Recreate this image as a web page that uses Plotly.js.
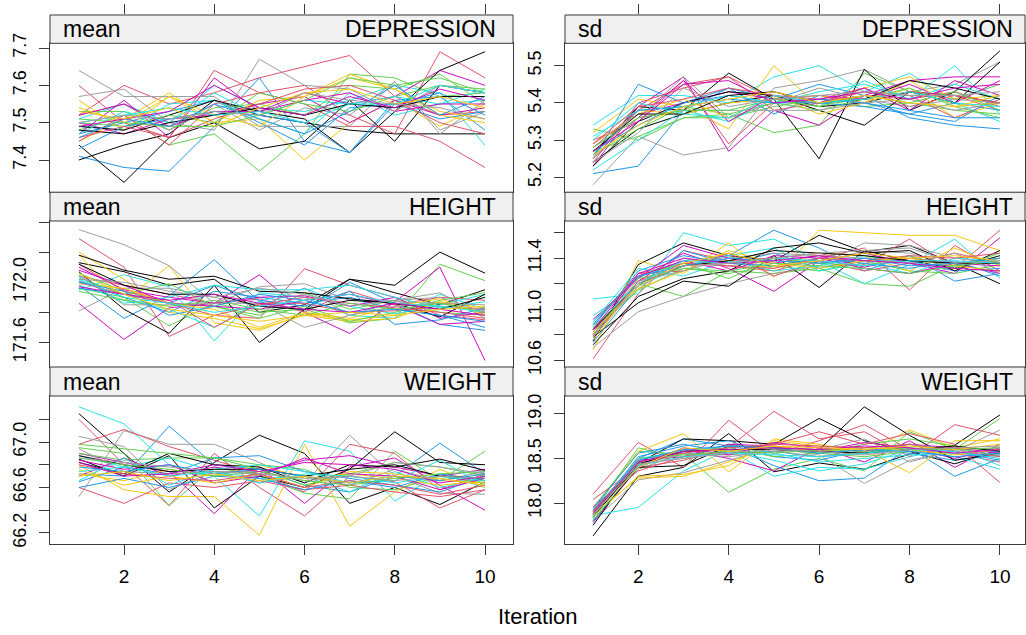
<!DOCTYPE html>
<html>
<head>
<meta charset="utf-8">
<script src="https://cdn.plot.ly/plotly-3.0.1.min.js"></script>
<style>html,body{margin:0;padding:0;background:#fff;}#chart{width:1026px;height:635px;}</style>
</head>
<body>
<div id="chart"></div>
<script>
// ---------------- DATA ----------------
const iterations = [1, 2, 3, 4, 5, 6, 7, 8, 9, 10];
const xTicks = [2, 4, 6, 8, 10];
const statNames = ["mean", "sd"];
const varNames = ["DEPRESSION", "HEIGHT", "WEIGHT"];
const axisTitle = "Iteration";

// one row per imputation chain, one value per iteration
const depMean = [
  [7.40,7.44,7.47,7.56,7.52,7.50,7.48,7.47,7.47,7.47],
  [7.52,7.60,7.55,7.58,7.62,7.65,7.68,7.57,7.52,7.53],
  [7.48,7.52,7.44,7.47,7.37,7.47,7.63,7.62,7.57,7.58],
  [7.41,7.38,7.37,7.49,7.62,7.45,7.42,7.56,7.57,7.48],
  [7.51,7.55,7.50,7.60,7.54,7.53,7.56,7.60,7.58,7.44],
  [7.47,7.56,7.46,7.62,7.53,7.58,7.55,7.57,7.64,7.60],
  [7.45,7.51,7.58,7.50,7.51,7.40,7.50,7.56,7.49,7.55],
  [7.64,7.57,7.57,7.57,7.49,7.49,7.49,7.61,7.47,7.56],
  [7.44,7.34,7.46,7.50,7.43,7.45,7.56,7.45,7.60,7.58],
  [7.60,7.50,7.46,7.64,7.58,7.60,7.52,7.47,7.69,7.62],
  [7.53,7.53,7.48,7.54,7.55,7.52,7.60,7.59,7.63,7.55],
  [7.47,7.50,7.53,7.56,7.50,7.44,7.54,7.55,7.51,7.53],
  [7.49,7.48,7.55,7.56,7.51,7.47,7.58,7.52,7.55,7.59],
  [7.50,7.47,7.51,7.52,7.55,7.57,7.50,7.56,7.52,7.54],
  [7.56,7.48,7.57,7.50,7.56,7.57,7.63,7.59,7.53,7.51],
  [7.52,7.55,7.48,7.55,7.48,7.54,7.52,7.61,7.48,7.53],
  [7.49,7.48,7.52,7.56,7.53,7.51,7.42,7.53,7.64,7.69],
  [7.45,7.52,7.44,7.55,7.58,7.55,7.49,7.49,7.45,7.38],
  [7.50,7.49,7.52,7.50,7.58,7.55,7.53,7.57,7.60,7.59],
  [7.43,7.49,7.51,7.53,7.52,7.50,7.42,7.55,7.58,7.52],
  [7.47,7.53,7.50,7.58,7.52,7.56,7.55,7.57,7.55,7.56],
  [7.52,7.55,7.49,7.53,7.53,7.56,7.58,7.53,7.55,7.55],
  [7.54,7.50,7.57,7.52,7.49,7.57,7.62,7.59,7.52,7.50],
  [7.57,7.59,7.50,7.48,7.67,7.60,7.59,7.53,7.60,7.58],
  [7.48,7.47,7.50,7.52,7.54,7.52,7.55,7.54,7.57,7.57],
  [7.46,7.49,7.46,7.51,7.55,7.59,7.60,7.56,7.50,7.47],
  [7.51,7.50,7.49,7.49,7.52,7.56,7.62,7.60,7.62,7.58],
  [7.46,7.51,7.49,7.55,7.51,7.47,7.53,7.60,7.52,7.57],
  [7.50,7.52,7.54,7.52,7.53,7.50,7.55,7.55,7.60,7.58],
  [7.49,7.51,7.53,7.60,7.54,7.52,7.57,7.54,7.59,7.56],
  [7.53,7.51,7.54,7.49,7.54,7.58,7.59,7.55,7.57,7.54],
  [7.50,7.52,7.51,7.53,7.52,7.58,7.56,7.55,7.54,7.51]
];
const depSd = [
  [5.24,5.33,5.37,5.40,5.42,5.39,5.40,5.43,5.42,5.40],
  [5.28,5.38,5.45,5.47,5.41,5.40,5.42,5.41,5.43,5.39],
  [5.33,5.30,5.36,5.37,5.32,5.34,5.48,5.43,5.41,5.45],
  [5.21,5.23,5.38,5.44,5.41,5.45,5.42,5.36,5.34,5.33],
  [5.34,5.42,5.42,5.40,5.47,5.50,5.43,5.48,5.40,5.35],
  [5.23,5.39,5.47,5.27,5.38,5.34,5.42,5.46,5.47,5.47],
  [5.32,5.41,5.39,5.33,5.50,5.39,5.44,5.47,5.41,5.42],
  [5.18,5.31,5.26,5.28,5.44,5.46,5.49,5.43,5.45,5.51],
  [5.26,5.39,5.38,5.48,5.41,5.25,5.49,5.38,5.43,5.54],
  [5.30,5.35,5.46,5.29,5.40,5.41,5.44,5.39,5.42,5.38],
  [5.27,5.31,5.36,5.36,5.39,5.41,5.39,5.40,5.38,5.37],
  [5.25,5.45,5.40,5.44,5.37,5.42,5.40,5.37,5.40,5.38],
  [5.22,5.30,5.38,5.35,5.41,5.39,5.46,5.41,5.50,5.37],
  [5.29,5.37,5.40,5.43,5.41,5.42,5.41,5.45,5.40,5.46],
  [5.25,5.38,5.37,5.40,5.41,5.42,5.40,5.44,5.36,5.40],
  [5.28,5.36,5.47,5.36,5.40,5.44,5.41,5.39,5.41,5.40],
  [5.23,5.35,5.40,5.43,5.42,5.38,5.34,5.43,5.40,5.51],
  [5.24,5.40,5.44,5.47,5.38,5.40,5.43,5.42,5.36,5.41],
  [5.26,5.33,5.39,5.37,5.40,5.38,5.41,5.44,5.39,5.36],
  [5.27,5.34,5.40,5.42,5.40,5.40,5.39,5.37,5.35,5.42],
  [5.31,5.38,5.39,5.42,5.40,5.43,5.45,5.41,5.45,5.41],
  [5.25,5.36,5.46,5.35,5.42,5.40,5.44,5.38,5.46,5.42],
  [5.29,5.37,5.41,5.36,5.42,5.37,5.40,5.46,5.39,5.40],
  [5.25,5.36,5.38,5.38,5.38,5.38,5.40,5.41,5.38,5.40],
  [5.27,5.37,5.37,5.42,5.43,5.40,5.41,5.46,5.44,5.41],
  [5.29,5.39,5.41,5.44,5.42,5.41,5.41,5.43,5.42,5.40],
  [5.28,5.36,5.38,5.38,5.41,5.39,5.42,5.40,5.43,5.38],
  [5.26,5.38,5.39,5.41,5.40,5.41,5.40,5.38,5.36,5.36],
  [5.30,5.40,5.37,5.36,5.42,5.40,5.41,5.43,5.40,5.39],
  [5.27,5.35,5.45,5.46,5.40,5.41,5.43,5.41,5.44,5.45],
  [5.26,5.34,5.39,5.41,5.43,5.40,5.42,5.40,5.39,5.42],
  [5.24,5.32,5.44,5.39,5.41,5.42,5.43,5.42,5.42,5.43]
];
const heightMean = [
  [172.13,172.07,171.98,172.02,171.80,171.85,172.02,171.93,171.85,171.95],
  [172.29,172.10,171.64,171.78,171.76,172.09,171.98,171.90,171.78,171.75],
  [171.96,171.90,171.71,171.86,171.80,171.82,171.73,171.76,172.12,172.01],
  [171.98,171.76,171.91,172.15,171.87,171.81,172.00,171.86,171.72,171.68],
  [171.95,172.05,171.97,171.61,171.93,171.90,171.78,171.76,171.92,171.82],
  [171.86,171.62,171.83,171.86,172.05,171.80,171.66,171.87,172.10,171.48],
  [172.18,171.88,172.11,171.73,171.68,171.79,171.75,171.78,171.87,171.79],
  [172.35,172.25,172.11,171.86,171.97,171.99,171.88,171.88,171.93,171.76],
  [172.07,171.82,171.66,171.98,171.60,171.82,172.02,171.98,172.20,172.06],
  [172.04,171.98,171.92,171.86,171.89,171.80,171.94,171.85,171.90,171.88],
  [172.06,171.94,171.86,171.84,171.78,171.93,171.82,171.88,171.80,171.78],
  [172.01,171.90,171.80,171.94,171.90,171.86,171.90,171.82,171.78,171.70],
  [171.98,171.88,171.82,171.70,171.87,171.96,171.84,171.79,171.85,171.92],
  [172.10,171.95,171.90,171.86,171.90,171.91,171.84,171.90,171.76,171.80],
  [172.20,172.02,171.80,171.76,171.69,171.78,171.74,171.76,171.87,171.83],
  [171.81,171.96,171.96,171.90,171.84,171.96,171.78,171.87,171.86,171.81],
  [172.18,172.08,172.02,172.04,171.94,171.93,171.89,171.86,171.77,171.92],
  [172.12,171.94,171.88,171.70,171.86,171.86,171.80,171.81,171.84,171.82],
  [172.03,171.92,171.99,171.84,171.76,171.84,171.74,171.80,171.88,171.93],
  [171.96,171.92,171.86,171.98,171.88,171.84,171.94,171.72,171.75,171.83],
  [172.04,171.86,171.90,171.98,171.95,171.95,171.98,171.90,171.83,171.87],
  [172.08,171.98,171.86,171.84,171.82,171.88,171.92,171.85,171.72,171.74],
  [171.99,171.96,171.86,171.82,171.70,171.80,171.76,171.84,171.89,171.78],
  [172.05,171.85,171.85,171.86,171.86,171.70,171.78,171.84,171.86,171.85],
  [172.12,171.98,171.92,171.92,171.84,171.82,171.88,171.86,171.82,171.90],
  [172.00,171.92,171.86,171.78,171.85,171.90,171.86,171.83,171.80,171.76],
  [171.94,171.88,171.84,171.88,171.82,171.78,171.86,171.82,171.86,171.80],
  [172.00,171.94,171.78,171.84,171.92,171.88,171.80,171.82,171.78,171.74],
  [172.02,171.90,171.86,171.80,171.84,171.88,171.92,171.86,171.84,171.80],
  [171.97,171.92,171.88,171.92,171.86,171.82,171.80,171.86,171.82,171.78],
  [172.06,171.92,171.82,171.78,171.74,171.78,171.80,171.78,171.82,171.84],
  [172.02,172.00,171.94,171.90,171.96,171.92,171.84,171.88,171.90,171.80]
];
const heightSd = [
  [10.75,11.35,11.52,11.42,11.38,11.58,11.45,11.50,11.36,11.20],
  [10.61,11.12,11.46,11.38,11.40,11.44,11.35,11.55,11.32,11.62],
  [10.85,11.20,11.10,11.30,11.28,11.32,11.20,11.18,11.35,11.40],
  [10.90,11.25,11.38,11.42,11.62,11.48,11.30,11.42,11.22,11.28],
  [11.08,11.12,11.60,11.50,11.55,11.38,11.20,11.35,11.55,11.24],
  [10.80,11.22,11.44,11.32,11.14,11.38,11.44,11.36,11.28,11.56],
  [10.68,11.38,11.28,11.52,11.25,11.62,11.60,11.58,11.58,11.46],
  [10.70,10.98,11.10,11.20,11.28,11.34,11.52,11.50,11.40,11.36],
  [10.78,11.05,11.22,11.18,11.42,11.17,11.46,11.38,11.32,11.42],
  [10.88,11.28,11.36,11.34,11.30,11.40,11.48,11.15,11.50,11.30],
  [10.82,11.15,11.32,11.28,11.34,11.30,11.38,11.30,11.28,11.35],
  [10.86,11.30,11.42,11.36,11.44,11.32,11.40,11.38,11.30,11.32],
  [10.95,11.18,11.34,11.42,11.48,11.30,11.36,11.28,11.40,11.38],
  [10.92,11.24,11.50,11.40,11.36,11.42,11.33,11.40,11.36,11.28],
  [10.76,11.20,11.34,11.38,11.32,11.44,11.42,11.30,11.48,11.34],
  [10.84,11.16,11.40,11.34,11.38,11.36,11.46,11.44,11.34,11.40],
  [10.72,11.10,11.24,11.30,11.48,11.52,11.44,11.46,11.30,11.46],
  [10.79,11.28,11.30,11.44,11.26,11.38,11.30,11.36,11.44,11.36],
  [10.88,11.26,11.36,11.24,11.40,11.36,11.34,11.42,11.32,11.44],
  [10.74,11.18,11.46,11.36,11.34,11.40,11.36,11.32,11.38,11.26],
  [10.90,11.32,11.26,11.38,11.30,11.34,11.42,11.36,11.34,11.40],
  [10.82,11.26,11.38,11.30,11.42,11.40,11.32,11.28,11.36,11.34],
  [10.86,11.16,11.30,11.46,11.36,11.32,11.38,11.40,11.34,11.30],
  [10.80,11.22,11.30,11.40,11.44,11.42,11.40,11.36,11.44,11.28],
  [10.84,11.20,11.34,11.38,11.46,11.44,11.42,11.38,11.36,11.36],
  [10.78,11.22,11.36,11.34,11.32,11.40,11.38,11.42,11.40,11.44],
  [10.80,11.24,11.32,11.30,11.36,11.34,11.32,11.28,11.34,11.38],
  [10.88,11.26,11.34,11.40,11.38,11.36,11.40,11.34,11.36,11.40],
  [10.86,11.20,11.38,11.36,11.40,11.38,11.34,11.38,11.38,11.36],
  [10.84,11.28,11.40,11.36,11.38,11.42,11.38,11.36,11.32,11.30],
  [10.82,11.18,11.36,11.44,11.34,11.38,11.44,11.40,11.42,11.38],
  [10.78,11.20,11.34,11.36,11.40,11.44,11.46,11.48,11.36,11.38]
];
const weightMean = [
  [67.25,66.90,66.56,66.82,67.06,66.90,66.46,66.60,66.45,66.65],
  [67.20,66.80,66.44,66.90,66.60,66.35,66.70,66.65,66.42,66.58],
  [66.95,66.90,66.44,66.78,66.70,66.55,66.50,66.92,66.66,66.92],
  [66.72,66.70,67.14,66.80,66.76,66.62,66.56,66.70,66.99,66.72],
  [67.31,67.16,66.80,66.70,66.35,67.01,66.92,66.48,66.72,66.60],
  [66.90,66.82,66.74,66.37,66.78,66.46,66.78,66.86,66.62,66.40],
  [66.80,66.58,66.52,66.52,66.18,66.98,66.26,66.56,66.76,66.60],
  [66.52,67.10,66.98,66.98,66.82,66.64,67.06,66.70,66.55,66.54],
  [66.85,66.70,66.88,66.42,66.70,66.60,66.76,67.09,66.82,66.80],
  [66.98,67.11,66.96,66.84,66.72,66.56,66.98,66.90,66.58,66.72],
  [66.90,66.84,66.86,66.86,66.80,66.76,66.60,66.58,66.70,66.64],
  [66.65,66.78,66.72,66.86,66.88,66.74,66.68,66.62,66.56,66.70],
  [66.88,66.78,66.86,66.74,66.68,66.70,66.56,66.74,66.60,66.68],
  [66.70,66.86,66.70,66.78,66.72,66.84,66.88,66.78,66.70,66.76],
  [66.72,66.66,66.76,66.70,66.80,66.68,66.72,66.68,66.62,66.66],
  [67.05,66.96,66.58,66.74,66.64,66.70,66.62,66.76,66.66,66.74],
  [66.82,66.72,66.90,66.80,66.78,66.64,66.80,66.78,66.85,66.75],
  [66.60,66.46,66.64,66.60,66.66,66.58,66.62,66.56,66.52,66.58],
  [66.98,66.94,66.90,66.86,66.76,66.62,66.72,66.82,66.78,66.70],
  [66.60,66.68,66.60,66.70,66.68,66.58,66.66,66.60,66.72,66.66],
  [66.66,66.86,66.62,66.76,66.80,66.74,66.64,66.66,66.84,66.62],
  [66.84,66.76,66.80,66.64,66.70,66.86,66.72,66.70,66.58,66.68],
  [66.76,66.62,66.70,66.64,66.72,66.60,66.74,66.72,66.66,66.64],
  [66.94,66.74,66.72,66.74,66.74,66.66,66.70,66.82,66.78,66.72],
  [66.88,66.80,66.74,66.76,66.76,66.70,66.76,66.80,66.70,66.68],
  [66.80,66.72,66.68,66.66,66.72,66.60,66.66,66.62,66.54,66.62],
  [66.86,66.80,66.76,66.70,66.74,66.66,66.62,66.68,66.72,66.74],
  [66.78,66.74,66.80,66.72,66.76,66.70,66.64,66.70,66.66,66.72],
  [66.74,66.78,66.70,66.74,66.64,66.72,66.70,66.64,66.70,66.66],
  [66.82,66.70,66.72,66.80,66.74,66.82,66.80,66.76,66.64,66.70],
  [66.70,66.74,66.66,66.72,66.66,66.70,66.64,66.70,66.68,66.62],
  [66.86,66.82,66.78,66.74,66.72,66.68,66.70,66.66,66.70,66.68]
];
const weightSd = [
  [17.63,18.30,18.40,18.78,18.35,18.45,18.38,18.55,18.65,18.99],
  [18.10,18.68,18.40,18.93,18.55,18.70,18.88,18.60,18.56,18.46],
  [17.95,18.58,18.55,18.12,18.38,18.50,18.36,18.80,18.60,18.95],
  [17.85,18.50,18.72,18.64,18.42,18.25,18.28,18.62,18.30,18.50],
  [17.86,17.95,18.36,18.60,18.30,18.40,18.38,18.52,18.62,18.42],
  [17.78,18.40,18.60,18.50,18.36,18.62,18.46,18.70,18.40,18.66],
  [17.92,18.58,18.78,18.35,18.72,18.66,18.56,18.82,18.62,18.72],
  [17.80,18.26,18.34,18.48,18.62,18.54,18.22,18.48,18.58,18.82],
  [17.75,18.45,18.72,18.70,18.66,18.95,18.70,18.58,18.44,18.60],
  [18.04,18.40,18.48,18.62,19.03,18.72,18.80,18.52,18.88,18.76],
  [17.90,18.62,18.50,18.66,18.60,18.56,18.66,18.72,18.64,18.58],
  [17.88,18.52,18.64,18.70,18.52,18.48,18.60,18.56,18.48,18.54],
  [17.82,18.46,18.60,18.58,18.48,18.36,18.44,18.60,18.52,18.38],
  [17.90,18.48,18.52,18.66,18.64,18.58,18.68,18.62,18.50,18.62],
  [17.84,18.30,18.32,18.42,18.70,18.64,18.60,18.34,18.70,18.70],
  [17.86,18.38,18.56,18.54,18.58,18.60,18.72,18.46,18.60,18.62],
  [17.80,18.40,18.42,18.64,18.62,18.60,19.08,18.76,18.48,18.56],
  [17.96,18.36,18.52,18.58,18.66,18.80,18.66,18.78,18.66,18.23],
  [17.88,18.44,18.58,18.62,18.52,18.56,18.52,18.58,18.62,18.52],
  [17.94,18.56,18.66,18.56,18.58,18.52,18.56,18.66,18.58,18.48],
  [17.84,18.50,18.58,18.64,18.56,18.46,18.50,18.54,18.56,18.58],
  [17.92,18.42,18.62,18.54,18.68,18.62,18.58,18.66,18.62,18.56],
  [17.88,18.28,18.30,18.46,18.64,18.58,18.62,18.60,18.54,18.60],
  [17.86,18.42,18.56,18.52,18.58,18.52,18.62,18.66,18.60,18.54],
  [17.84,18.44,18.58,18.60,18.60,18.58,18.56,18.60,18.64,18.58],
  [17.90,18.46,18.56,18.62,18.66,18.64,18.62,18.66,18.58,18.52],
  [17.86,18.50,18.54,18.58,18.56,18.60,18.58,18.62,18.60,18.62],
  [17.92,18.48,18.60,18.64,18.62,18.56,18.60,18.58,18.52,18.56],
  [17.80,18.42,18.52,18.56,18.54,18.52,18.56,18.60,18.58,18.50],
  [17.88,18.46,18.58,18.60,18.62,18.60,18.64,18.62,18.56,18.60],
  [17.84,18.40,18.62,18.58,18.64,18.62,18.60,18.64,18.60,18.66],
  [17.86,18.44,18.50,18.56,18.60,18.58,18.54,18.60,18.62,18.64]
];

// y tick values and labels per panel
const depMeanTicks = [7.4, 7.5, 7.6, 7.7];
const depMeanLabels = ["7.4", "7.5", "7.6", "7.7"];
const depSdTicks = [5.2, 5.3, 5.4, 5.5];
const depSdLabels = ["5.2", "5.3", "5.4", "5.5"];
const heightMeanTicks = [171.6, 171.8, 172.0, 172.2, 172.4];
const heightMeanLabels = ["171.6", "", "172.0", "", ""];
const heightSdTicks = [10.6, 10.8, 11.0, 11.2, 11.4, 11.6];
const heightSdLabels = ["10.6", "", "11.0", "", "11.4", ""];
const weightMeanTicks = [66.2, 66.4, 66.6, 66.8, 67.0, 67.2];
const weightMeanLabels = ["66.2", "", "66.6", "", "67.0", ""];
const weightSdTicks = [18.0, 18.5, 19.0];
const weightSdLabels = ["18.0", "18.5", "19.0"];

// ---------------- STYLE / LAYOUT ----------------
const palette = ["#000000", "#DF536B", "#61D04F", "#2297E6", "#28E2E5", "#CD0BBC", "#F5C710", "#9E9E9E"];
const W = 1026, H = 635;
const FONT = "Liberation Sans, Arial, sans-serif";
const BORDER = "#3a3a3a";

const colPx = [[50, 513], [565, 1025]];
const colRange = [[0.36, 10.62], [0.379, 10.554]];
const rowPlotPx = [[43.3, 191.7], [221, 366.5], [396, 544.3]];
const rowStripPx = [[15, 43.3], [192.2, 221], [367, 396]];

const panels = [
  {data: depMean, row: 0, col: 0, range: [7.3151, 7.7126], tv: depMeanTicks, tt: depMeanLabels},
  {data: depSd, row: 0, col: 1, range: [5.1613, 5.5602], tv: depSdTicks, tt: depSdLabels},
  {data: heightMean, row: 1, col: 0, range: [171.44, 172.407], tv: heightMeanTicks, tt: heightMeanLabels},
  {data: heightSd, row: 1, col: 1, range: [10.55, 11.692], tv: heightSdTicks, tt: heightSdLabels},
  {data: weightMean, row: 2, col: 0, range: [66.10, 67.405], tv: weightMeanTicks, tt: weightMeanLabels},
  {data: weightSd, row: 2, col: 1, range: [17.536, 19.202], tv: weightSdTicks, tt: weightSdLabels}
];

const xf = px => px / W;
const ydom = (top, bot) => [1 - bot / H, 1 - top / H];

const traces = [];
const layout = {
  width: W, height: H, autosize: false,
  margin: {l: 0, r: 0, t: 0, b: 0, pad: 0},
  paper_bgcolor: "#ffffff", plot_bgcolor: "#ffffff",
  showlegend: false,
  font: {family: FONT, color: "#000000"},
  shapes: [], annotations: []
};

panels.forEach((p, i) => {
  const k = i + 1;
  const xa = "x" + (k === 1 ? "" : k), ya = "y" + (k === 1 ? "" : k);
  const xk = "xaxis" + (k === 1 ? "" : k), yk = "yaxis" + (k === 1 ? "" : k);
  p.data.forEach((chain, c) => {
    traces.push({
      type: "scatter", mode: "lines", x: iterations, y: chain,
      xaxis: xa, yaxis: ya, hoverinfo: "skip",
      line: {color: palette[c % palette.length], width: 1}
    });
  });
  const bottom = p.row === 2;
  layout[xk] = {
    domain: [xf(colPx[p.col][0]), xf(colPx[p.col][1])],
    range: colRange[p.col], anchor: ya,
    showline: true, mirror: true, linecolor: BORDER, linewidth: 1,
    showgrid: false, zeroline: false,
    ticks: bottom ? "outside" : "", ticklen: 10, tickcolor: BORDER, tickwidth: 1,
    tickvals: xTicks, ticktext: xTicks.map(String),
    showticklabels: bottom, ticklabelstandoff: 5,
    tickfont: {size: 19, family: FONT, color: "#000"}
  };
  layout[yk] = {
    domain: ydom(rowPlotPx[p.row][0], rowPlotPx[p.row][1]),
    range: p.range, anchor: xa,
    showline: true, mirror: true, linecolor: BORDER, linewidth: 1,
    showgrid: false, zeroline: false,
    ticks: "outside", ticklen: 10, tickcolor: BORDER, tickwidth: 1,
    tickvals: p.tv, ticktext: p.tt, tickangle: -90, ticklabelstandoff: 6,
    tickfont: {size: 18, family: FONT, color: "#000"}
  };
  // strip
  const s = rowStripPx[p.row];
  layout.shapes.push({
    type: "rect", xref: "paper", yref: "paper", layer: "above",
    x0: xf(colPx[p.col][0]), x1: xf(colPx[p.col][1]),
    y0: 1 - s[1] / H, y1: 1 - s[0] / H,
    fillcolor: "#f0f0f0", line: {color: BORDER, width: 1}
  });
  layout.annotations.push({
    xref: "paper", yref: "paper", x: xf(colPx[p.col][0] + 11), y: 1 - (s[0] + s[1]) / 2 / H,
    xanchor: "left", yanchor: "middle", showarrow: false,
    text: statNames[p.col], font: {size: 23, family: FONT, color: "#000"}
  });
  layout.annotations.push({
    xref: "paper", yref: "paper", x: xf(colPx[p.col][1] - (p.col === 0 ? 15 : 10)), y: 1 - (s[0] + s[1]) / 2 / H,
    xanchor: "right", yanchor: "middle", showarrow: false,
    text: varNames[p.row], font: {size: 23, family: FONT, color: "#000"}
  });
});

// top tick axes above the first strips
[0, 1].forEach(col => {
  const k = 7 + col;
  traces.push({type: "scatter", mode: "lines", x: [null], y: [null], xaxis: "x" + k, yaxis: "y" + k, hoverinfo: "skip"});
  layout["xaxis" + k] = {
    domain: [xf(colPx[col][0]), xf(colPx[col][1])], range: colRange[col],
    anchor: "y" + k, side: "top", showline: false, showgrid: false, zeroline: false,
    ticks: "outside", ticklen: 10, tickcolor: BORDER, tickwidth: 1,
    tickvals: xTicks, showticklabels: false
  };
  layout["yaxis" + k] = {
    domain: ydom(rowStripPx[0][0], rowStripPx[0][1]), range: [0, 1],
    anchor: "x" + k, visible: false
  };
});

layout.annotations.push({
  xref: "paper", yref: "paper", x: xf(538), y: 1 - 616 / H,
  xanchor: "center", yanchor: "middle", showarrow: false,
  text: axisTitle, font: {size: 22, family: FONT, color: "#000"}
});

Plotly.newPlot("chart", traces, layout, {staticPlot: true, displayModeBar: false});
</script>
</body>
</html>
